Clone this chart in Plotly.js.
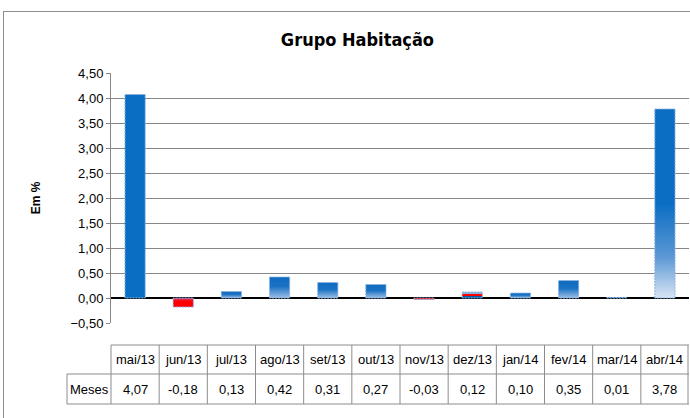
<!DOCTYPE html>
<html>
<head>
<meta charset="utf-8">
<script src="https://cdn.plot.ly/plotly-3.0.1.min.js"></script>
<style>
  body { margin: 0; background: #fff; }
  #wrap { position: relative; width: 690px; height: 418px; overflow: hidden; }
  #chart { width: 690px; height: 418px; }
  #frame { position: absolute; left: 3px; top: 11px; width: 700px; height: 420px;
           border: 1px solid #8c8c8c; pointer-events: none; }
</style>
</head>
<body>
<div id="wrap">
  <div id="chart"></div>
  <div id="frame"></div>
</div>
<script>
// dados: variação mensal do grupo Habitação (%)
const meses = ['mai/13', 'jun/13', 'jul/13', 'ago/13', 'set/13', 'out/13',
               'nov/13', 'dez/13', 'jan/14', 'fev/14', 'mar/14', 'abr/14'];
const valores = [4.07, -0.18, 0.13, 0.42, 0.31, 0.27, -0.03, 0.12, 0.10, 0.35, 0.01, 3.78];
const rotuloLinha = 'Meses';

const fonte = 'Liberation Sans Narrow, Arial Narrow, Liberation Sans, sans-serif';
const fonteTitulo = 'DejaVu Sans Condensed, Liberation Sans Narrow, sans-serif';
const azul = '#0a6fc2';
const vermelho = '#ff0000';
const cinza = '#8c8c8c';

function fmt(v) {
    return v.toFixed(2).replace('.', ',');
}

const cores = valores.map(v => v < 0 ? vermelho : azul);

const barras = {
    type: 'bar',
    x: meses,
    y: valores,
    width: 0.42,
    marker: { color: cores, line: { color: '#8db4e2', width: 1 } },
    hoverinfo: 'none'
};

// geometria em coordenadas "paper" (margem l=66, r=1, t=73, b=14 -> 623 x 331)
const W = 623, H = 331;
const x0 = 45 / W;                       // início da área do gráfico
const colW = (1 - x0) / meses.length;    // largura de cada coluna
const xMeses = 1 / W;                    // borda esquerda da célula "Meses"
const yTopo = 59 / H, yMeio = 30 / H, yBase = 0;

// tabela de dados desenhada com anotações e linhas
const anotacoes = [];
const linhas = [];
const fonteTabela = { family: fonte, size: 13, color: '#000' };

meses.forEach((m, i) => {
    const xc = x0 + colW * (i + 0.5);
    anotacoes.push({ xref: 'paper', yref: 'paper', x: xc, y: (yTopo + yMeio) / 2,
                     text: m, showarrow: false, font: fonteTabela,
                     xanchor: 'center', yanchor: 'middle' });
    anotacoes.push({ xref: 'paper', yref: 'paper', x: xc, y: (yMeio + yBase) / 2,
                     text: fmt(valores[i]), showarrow: false, font: fonteTabela,
                     xanchor: 'center', yanchor: 'middle' });
});
anotacoes.push({ xref: 'paper', yref: 'paper', x: (xMeses + x0) / 2, y: (yMeio + yBase) / 2,
                 text: rotuloLinha, showarrow: false, font: fonteTabela,
                 xanchor: 'center', yanchor: 'middle' });

const estiloLinha = { color: cinza, width: 1 };
linhas.push({ type: 'line', xref: 'paper', yref: 'paper', x0: x0, x1: 1, y0: yTopo, y1: yTopo, line: estiloLinha });
linhas.push({ type: 'line', xref: 'paper', yref: 'paper', x0: xMeses, x1: 1, y0: yMeio, y1: yMeio, line: estiloLinha });
linhas.push({ type: 'line', xref: 'paper', yref: 'paper', x0: xMeses, x1: 1, y0: yBase, y1: yBase, line: estiloLinha });
linhas.push({ type: 'line', xref: 'paper', yref: 'paper', x0: xMeses, x1: xMeses, y0: yBase, y1: yMeio, line: estiloLinha });
for (let k = 0; k <= meses.length; k++) {
    const xv = Math.min(x0 + colW * k, 1 - 1 / W);
    linhas.push({ type: 'line', xref: 'paper', yref: 'paper', x0: xv, x1: xv, y0: yBase, y1: yTopo, line: estiloLinha });
}

const layout = {
    width: 690,
    height: 418,
    margin: { l: 66, r: 1, t: 73, b: 14 },
    paper_bgcolor: '#fff',
    plot_bgcolor: '#fff',
    separators: ',.',
    showlegend: false,
    title: {
        text: 'Grupo Habitação',
        x: 0.518, xanchor: 'center',
        y: 0.905, yanchor: 'middle',
        font: { family: fonteTitulo, size: 18, color: '#000', weight: 'bold' }
    },
    xaxis: {
        domain: [x0, 1],
        showticklabels: false,
        ticks: '',
        showgrid: false,
        zeroline: false,
        showline: false,
        fixedrange: true
    },
    yaxis: {
        domain: [81 / H, 1],
        range: [-0.5, 4.5],
        dtick: 0.5,
        tick0: 0,
        tickformat: '.2f',
        ticks: 'outside',
        ticklen: 4,
        tickcolor: '#868686',
        showline: true,
        linecolor: '#868686',
        linewidth: 1,
        showgrid: true,
        gridcolor: '#868686',
        gridwidth: 1,
        zeroline: true,
        zerolinecolor: '#000',
        zerolinewidth: 2,
        tickfont: { family: fonte, size: 13, color: '#000' },
        title: {
            text: 'Em %',
            standoff: 27,
            font: { family: fonte, size: 12, color: '#000', weight: 'bold' }
        },
        fixedrange: true
    },
    annotations: anotacoes,
    shapes: linhas
};

// degradês das barras (estilo)
const degrades = {
    solido: [[0, azul], [1, azul]],
    alto: [[0, '#0b6ec3'], [0.5, '#0b6ec3'], [0.78, '#5a97d4'], [1, '#d8e5f4']],
    baixo: [[0, '#0f6cc0'], [0.45, '#1a72c4'], [1, '#9dbfe6']],
    negativo: [[0, '#c0508a'], [0.35, '#ff0000'], [1, '#ff0000']],
    misto: [[0, '#8ab0e0'], [0.3, '#8ab0e0'], [0.32, '#ff0000'], [0.62, '#ff0000'], [0.65, '#0b5fa8'], [1, '#0b5fa8']]
};
const estiloBarra = ['solido', 'negativo', 'baixo', 'baixo', 'baixo', 'baixo',
                     'negativo', 'misto', 'baixo', 'baixo', 'baixo', 'alto'];

Plotly.newPlot('chart', [barras], layout, { staticPlot: true, displayModeBar: false }).then(() => {
    const svg = document.querySelector('#chart .main-svg');
    const ns = 'http://www.w3.org/2000/svg';
    const defs = document.createElementNS(ns, 'defs');
    svg.insertBefore(defs, svg.firstChild);
    Object.keys(degrades).forEach(nome => {
        const g = document.createElementNS(ns, 'linearGradient');
        g.setAttribute('id', 'grad-' + nome);
        g.setAttribute('x1', '0'); g.setAttribute('y1', '0');
        g.setAttribute('x2', '0'); g.setAttribute('y2', '1');
        degrades[nome].forEach(([off, cor]) => {
            const s = document.createElementNS(ns, 'stop');
            s.setAttribute('offset', off);
            s.setAttribute('stop-color', cor);
            g.appendChild(s);
        });
        defs.appendChild(g);
    });
    document.querySelectorAll('#chart .trace.bars .point path').forEach((p, i) => {
        p.style.fill = 'url(#grad-' + estiloBarra[i] + ')';
        p.style.strokeDasharray = '2,1';
    });
});
</script>
</body>
</html>
